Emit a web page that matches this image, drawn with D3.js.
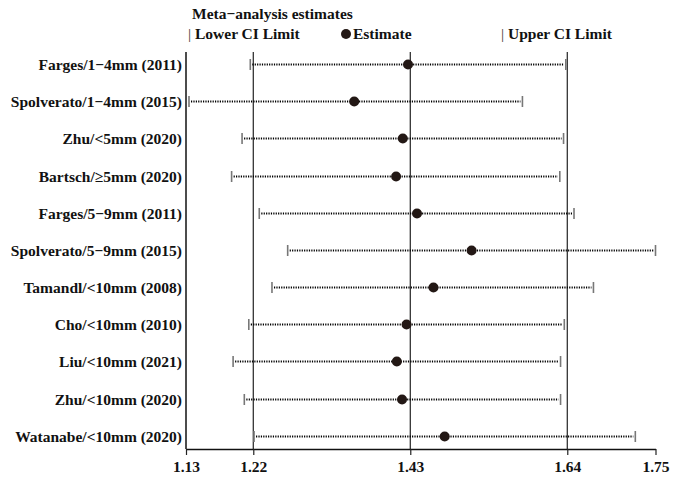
<!DOCTYPE html>
<html>
<head>
<meta charset="utf-8">
<script src="https://cdn.jsdelivr.net/npm/d3@7"></script>
<style>
  body { margin: 0; background: #fff; }
  svg { display: block; }
  text { font-family: "Liberation Serif", "Times New Roman", serif; font-weight: bold; fill: #111; }
</style>
</head>
<body>
<div id="chartDiv"></div>
<script>
// Study labels (top to bottom)
var studies = [
  "Farges/1\u22124mm (2011)",
  "Spolverato/1\u22124mm (2015)",
  "Zhu/<5mm (2020)",
  "Bartsch/\u22655mm (2020)",
  "Farges/5\u22129mm (2011)",
  "Spolverato/5\u22129mm (2015)",
  "Tamandl/<10mm (2008)",
  "Cho/<10mm (2010)",
  "Liu/<10mm (2021)",
  "Zhu/<10mm (2020)",
  "Watanabe/<10mm (2020)"
];
// values
var lowerCI   = [1.216, 1.134, 1.205, 1.191, 1.228, 1.266, 1.245, 1.214, 1.193, 1.208, 1.221];
var estimates = [1.427, 1.355, 1.420, 1.411, 1.439, 1.512, 1.461, 1.425, 1.412, 1.419, 1.476];
var upperCI   = [1.638, 1.580, 1.635, 1.630, 1.649, 1.758, 1.675, 1.636, 1.631, 1.631, 1.731];

// axis ticks and reference lines
var tickValues = [1.13, 1.22, 1.43, 1.64, 1.758];
var tickLabels = ["1.13", "1.22", "1.43", "1.64", "1.75"];
var refLines = [1.22, 1.43, 1.64];

var width = 675, height = 479;
var axisY = 449, topY = 52;

var svg = d3.select("#chartDiv")
  .append("svg")
  .attr("width", width)
  .attr("height", height);

// scales
var x = d3.scaleLinear().domain([1.13, 1.758]).range([186, 655.5]);
var y = d3.scalePoint().domain(studies).range([64, 435.7]);

var data = studies.map(function(s, i) {
  return { name: s, lo: lowerCI[i], est: estimates[i], hi: upperCI[i] };
});

// left border line
svg.append("line")
  .attr("x1", x(1.13)).attr("x2", x(1.13))
  .attr("y1", topY).attr("y2", axisY)
  .attr("stroke", "#111").attr("stroke-width", 1.5);

// reference lines
svg.selectAll(".ref")
  .data(refLines)
  .enter().append("line")
  .attr("class", "ref")
  .attr("x1", function(d) { return x(d); })
  .attr("x2", function(d) { return x(d); })
  .attr("y1", topY).attr("y2", axisY)
  .attr("stroke", "#222").attr("stroke-width", 1.2);

// x axis
var xAxis = d3.axisBottom(x)
  .tickValues(tickValues)
  .tickFormat(function(d, i) { return tickLabels[i]; })
  .tickSize(6)
  .tickSizeOuter(0)
  .tickPadding(6);

var gx = svg.append("g")
  .attr("transform", "translate(0," + axisY + ")")
  .call(xAxis);
gx.select(".domain").attr("stroke", "#111").attr("stroke-width", 1.5);
gx.selectAll(".tick line").attr("stroke", "#222").attr("stroke-width", 1.2);
gx.selectAll(".tick text")
  .attr("font-family", "Liberation Serif, Times New Roman, serif")
  .attr("font-weight", "bold")
  .attr("font-size", 15.5)
  .attr("fill", "#111");

var rows = svg.selectAll(".row")
  .data(data)
  .enter().append("g")
  .attr("class", "row")
  .attr("transform", function(d) { return "translate(0," + (Math.round(y(d.name)) + 0.5) + ")"; });

// row labels
rows.append("text")
  .attr("x", 182)
  .attr("dy", "0.35em")
  .attr("text-anchor", "end")
  .attr("font-size", 15.5)
  .text(function(d) { return d.name; });

// dotted CI line
rows.append("line")
  .attr("x1", function(d) { return x(d.lo) + 2; })
  .attr("x2", function(d) { return x(d.hi) - 2; })
  .attr("stroke", "#000")
  .attr("stroke-width", 1.8)
  .attr("stroke-dasharray", "1.2,1.2");

// CI caps
rows.append("line")
  .attr("x1", function(d) { return x(d.lo); })
  .attr("x2", function(d) { return x(d.lo); })
  .attr("y1", -5.5).attr("y2", 5.5)
  .attr("stroke", "#777").attr("stroke-width", 1.6);
rows.append("line")
  .attr("x1", function(d) { return x(d.hi); })
  .attr("x2", function(d) { return x(d.hi); })
  .attr("y1", -5.5).attr("y2", 5.5)
  .attr("stroke", "#777").attr("stroke-width", 1.6);

// estimate dots
rows.append("circle")
  .attr("cx", function(d) { return x(d.est); })
  .attr("r", 5)
  .attr("fill", "#231815");

// legend
svg.append("text")
  .attr("x", 192).attr("y", 19)
  .attr("font-size", 15.5)
  .text("Meta\u2212analysis estimates");

var lowerLeg = svg.append("text")
  .attr("x", 188).attr("y", 39)
  .attr("font-size", 15.5);
lowerLeg.append("tspan").attr("font-weight", "normal").attr("fill", "#333").text("|");
lowerLeg.append("tspan").text(" Lower CI Limit");

svg.append("circle")
  .attr("cx", 346).attr("cy", 34)
  .attr("r", 5)
  .attr("fill", "#231815");
svg.append("text")
  .attr("x", 353).attr("y", 39)
  .attr("font-size", 15.5)
  .text("Estimate");

var upperLeg = svg.append("text")
  .attr("x", 501).attr("y", 39)
  .attr("font-size", 15.5);
upperLeg.append("tspan").attr("font-weight", "normal").attr("fill", "#333").text("|");
upperLeg.append("tspan").text(" Upper CI Limit");
</script>
</body>
</html>
